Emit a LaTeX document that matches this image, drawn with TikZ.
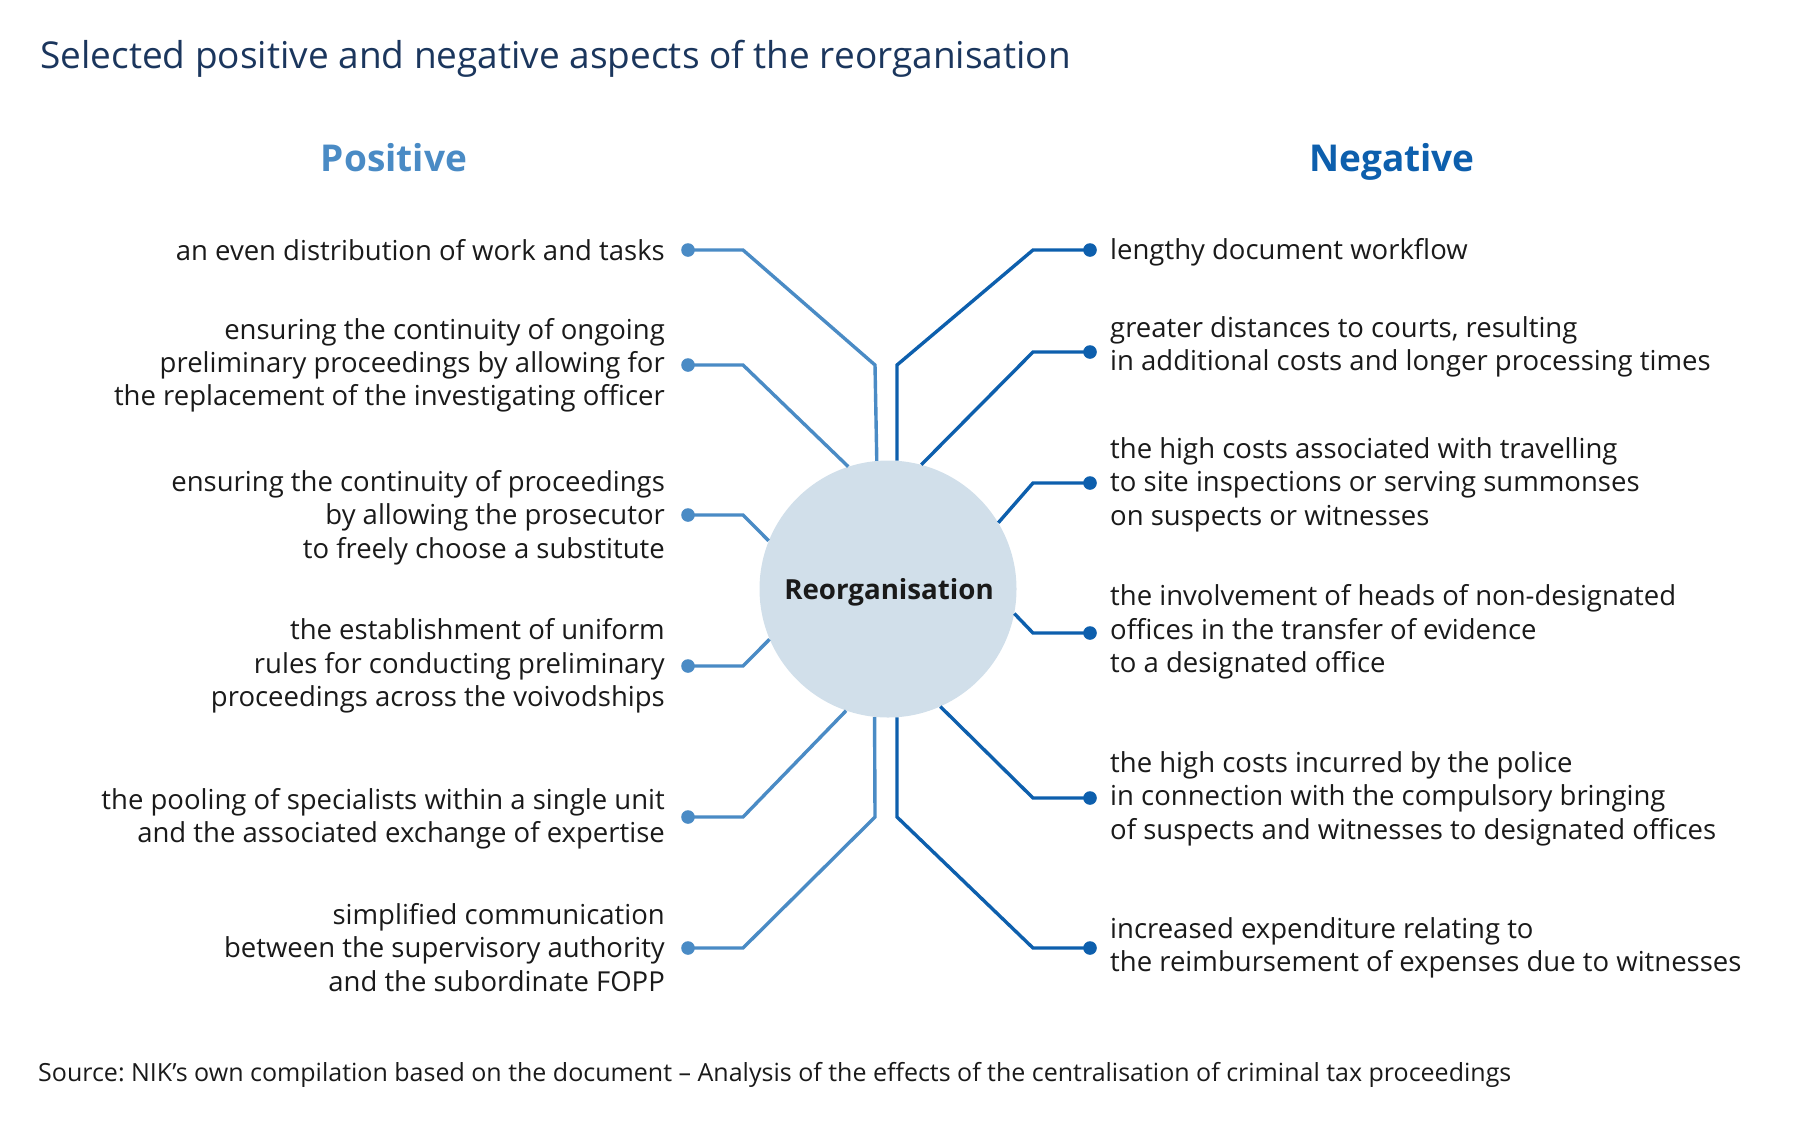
\documentclass[tikz,border=0pt]{standalone}
\usepackage{fontspec}
\setmainfont{Open Sans}
\frenchspacing
\definecolor{poscol}{HTML}{4A8BC5}
\definecolor{negcol}{HTML}{0D5FAD}
\definecolor{circcol}{HTML}{D1DFEA}
\definecolor{titlecol}{HTML}{1B365D}
\definecolor{txtcol}{HTML}{1A1A1A}
\tikzset{
  item/.style={font=\fontsize{27.5}{33.4}\selectfont, text=txtcol, inner sep=0pt},
  lefttxt/.style={item, align=right, anchor=east},
  righttxt/.style={item, align=left, anchor=west},
  posdot/.style={circle, fill=poscol, inner sep=0pt, minimum size=12pt},
  negdot/.style={circle, fill=negcol, inner sep=0pt, minimum size=12pt},
  posline/.style={draw=poscol, line width=3.4pt},
  negline/.style={draw=negcol, line width=3.4pt},
}
\begin{document}
\begin{tikzpicture}[x=1pt,y=-1pt]
\useasboundingbox (0,0) rectangle (1819,1120);
% title
\node[anchor=base west, inner sep=0pt, text=titlecol, font=\fontsize{37}{44}\selectfont] (title) at (40,68.5) {Selected positive and negative aspects of the reorganisation};
\node[anchor=base, inner sep=0pt, text=poscol, font=\fontsize{37}{44}\bfseries] (poshead) at (394,171.5) {Positive};
\node[anchor=base, inner sep=0pt, text=negcol, font=\fontsize{37}{44}\bfseries] (neghead) at (1392,171.5) {Negative};
% centre
\node[circle, fill=circcol, minimum size=257pt, inner sep=0pt] (c) at (888,589) {};
\node[anchor=base, inner sep=0pt, font=\fontsize{27.7}{33}\bfseries, text=txtcol] (clabel) at (889,599) {Reorganisation};
% left texts
\node[lefttxt] (l1) at (665,250.2) {an even distribution of work and tasks};
\node[lefttxt] (l2) at (665,365.3) {ensuring the continuity of ongoing\\preliminary proceedings by allowing for\\the replacement of the investigating officer};
\node[lefttxt] (l3) at (665,517.5) {ensuring the continuity of proceedings\\by allowing the prosecutor\\to freely choose a substitute};
\node[lefttxt] (l4) at (665,666) {the establishment of uniform\\rules for conducting preliminary\\proceedings across the voivodships};
\node[lefttxt] (l5) at (665,818.5) {the pooling of specialists within a single unit\\and the associated exchange of expertise};
\node[lefttxt] (l6) at (665,947.3) {simplified communication\\between the supervisory authority\\and the subordinate FOPP};
% right texts
\node[righttxt] (r1) at (1110,252.5) {lengthy document workflow};
\node[righttxt] (r2) at (1110,347) {greater distances to courts, resulting\\in additional costs and longer processing times};
\node[righttxt] (r3) at (1110,484.5) {the high costs associated with travelling\\to site inspections or serving summonses\\on suspects or witnesses};
\node[righttxt] (r4) at (1110,632) {the involvement of heads of non-designated\\offices in the transfer of evidence\\to a designated office};
\node[righttxt] (r5) at (1110,798.5) {the high costs incurred by the police\\in connection with the compulsory bringing\\of suspects and witnesses to designated offices};
\node[righttxt] (r6) at (1110,948) {increased expenditure relating to\\the reimbursement of expenses due to witnesses};
% dots
\node[posdot] (pd1) at (688,250) {};
\node[posdot] (pd2) at (688,365) {};
\node[posdot] (pd3) at (688,515) {};
\node[posdot] (pd4) at (688,666) {};
\node[posdot] (pd5) at (688,817) {};
\node[posdot] (pd6) at (688,948) {};
\node[negdot] (nd1) at (1090,250) {};
\node[negdot] (nd2) at (1090,352) {};
\node[negdot] (nd3) at (1090,483) {};
\node[negdot] (nd4) at (1090,633) {};
\node[negdot] (nd5) at (1090,798) {};
\node[negdot] (nd6) at (1090,948) {};
% connectors
\draw[posline] (pd1.center) -- (743,250) -- (875,365) -- (c.95.8);
\draw[posline] (pd2.center) -- (743,365) -- (c.108.6);
\draw[posline] (pd3.center) -- (743,515) -- (c.158.6);
\draw[posline] (pd4.center) -- (743,666) -- (c.203);
\draw[posline] (pd5.center) -- (743,817) -- (c.251.7);
\draw[posline] (pd6.center) -- (743,948) -- (875,817) -- (c.264.2);
\draw[negline] (nd1.center) -- (1033,250) -- (897,365) -- (c.86);
\draw[negline] (nd2.center) -- (1033,352) -- (c.75.3);
\draw[negline] (nd3.center) -- (1033,483) -- (c.31.6);
\draw[negline] (nd4.center) -- (1033,633) -- (c.349.5);
\draw[negline] (nd5.center) -- (1033,798) -- (c.294.8);
\draw[negline] (nd6.center) -- (1033,948) -- (897,817) -- (c.274);
% redraw dots on top
\foreach \d in {pd1,pd2,pd3,pd4,pd5,pd6}{\fill[poscol] (\d) circle (6.8pt);}
\foreach \d in {nd1,nd2,nd3,nd4,nd5,nd6}{\fill[negcol] (\d) circle (6.8pt);}
% source
\node[anchor=west, inner sep=0pt, text=txtcol, font=\fontsize{25}{30}\selectfont] (src) at (38,1074.5) {Source: NIK’s own compilation based on the document – Analysis of the effects of the centralisation of criminal tax proceedings};
\end{tikzpicture}
\end{document}
